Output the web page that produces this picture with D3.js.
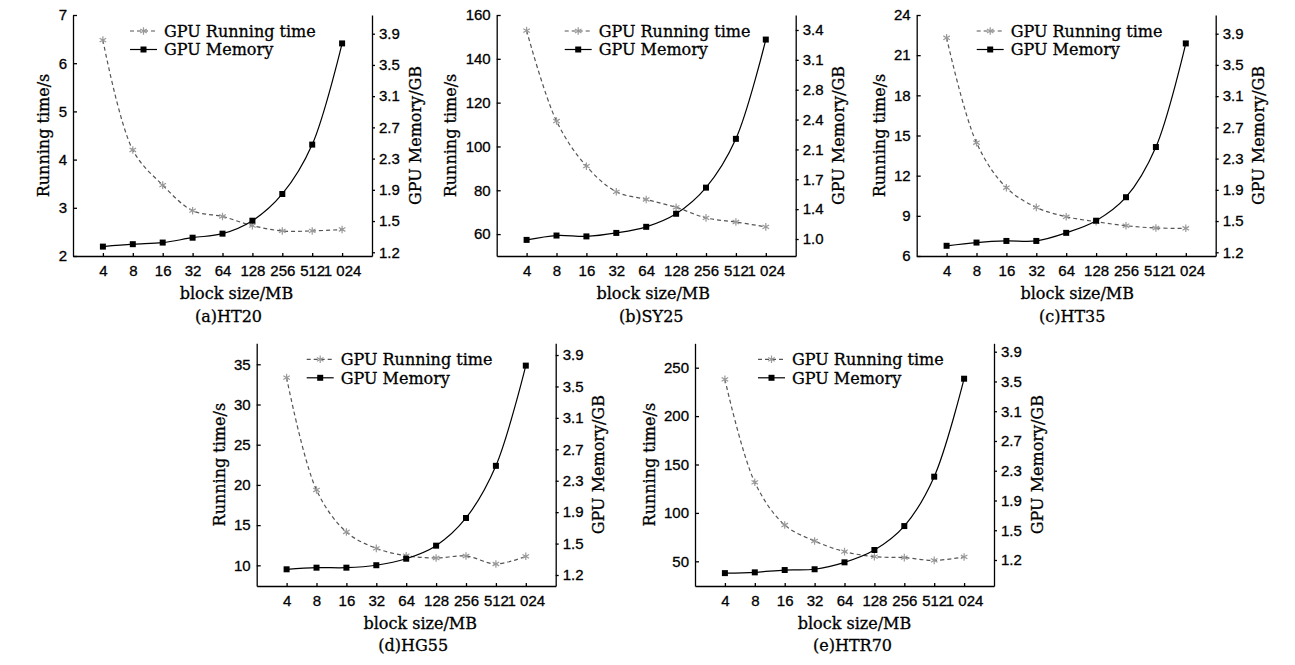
<!DOCTYPE html>
<html>
<head>
<meta charset="utf-8">
<script src="https://cdn.jsdelivr.net/npm/d3@7"></script>
<style>
  body { margin: 0; background: #fff; }
  svg { display: block; font-family: "DejaVu Serif", serif; }
  .axis path, .axis line { stroke: #000; stroke-width: 1.3; }
  .axis text { font-size: 15px; fill: #000; stroke: #000; stroke-width: 0.3; }
  .ttl { font-size: 16px; fill: #000; stroke: #000; stroke-width: 0.3; }
</style>
</head>
<body>
<div class="chart"></div>
<script>
// block sizes shared by all five panels
var blockSizes = [4, 8, 16, 32, 64, 128, 256, 512, 1024];
var blockLabels = ["4", "8", "16", "32", "64", "128", "256", "512", "1 024"];
var captions = ["(a)HT20", "(b)SY25", "(c)HT35", "(d)HG55", "(e)HTR70"];

// running time (s)
var timeHT20 = [6.48, 4.20, 3.47, 2.94, 2.82, 2.63, 2.52, 2.52, 2.55];
var timeSY25 = [152.9, 111.6, 91.0, 79.3, 75.8, 72.2, 67.4, 65.5, 63.3];
var timeHT35 = [22.3, 14.46, 11.1, 9.63, 8.93, 8.56, 8.26, 8.09, 8.07];
var timeHG55 = [33.34, 19.37, 14.15, 12.11, 11.2, 10.91, 11.16, 10.17, 11.12];
var timeHTR70 = [237.9, 131.6, 87.5, 71.0, 60.0, 54.8, 53.8, 51.0, 54.5];

// GPU memory (GB)
var memHT20 = [1.27, 1.30, 1.32, 1.38, 1.43, 1.59, 1.92, 2.53, 3.78];
var memSY25 = [0.99, 1.04, 1.03, 1.07, 1.14, 1.29, 1.59, 2.15, 3.29];
var memHT35 = [1.28, 1.32, 1.34, 1.34, 1.44, 1.59, 1.88, 2.50, 3.78];
var memHG55 = [1.27, 1.29, 1.29, 1.32, 1.40, 1.56, 1.90, 2.54, 3.77];
var memHTR70 = [1.03, 1.04, 1.07, 1.08, 1.17, 1.33, 1.64, 2.28, 3.55];

// axis domains and tick labels
var leftDomains = [[2, 7], [50, 160], [6, 24], [7.43, 37.61], [24.5, 275.2]];
var rightDomains = [[1.154, 4.131], [0.805, 3.572], [1.154, 4.131], [1.065, 4.044], [0.863, 4.009]];
var leftTicks = [
  [2, 3, 4, 5, 6, 7],
  [60, 80, 100, 120, 140, 160],
  [6, 9, 12, 15, 18, 21, 24],
  [10, 15, 20, 25, 30, 35],
  [50, 100, 150, 200, 250]
];
var rightLabels = [
  ["1.2", "1.5", "1.9", "2.3", "2.7", "3.1", "3.5", "3.9"],
  ["1.0", "1.4", "1.7", "2.1", "2.4", "2.8", "3.1", "3.4"],
  ["1.2", "1.5", "1.9", "2.3", "2.7", "3.1", "3.5", "3.9"],
  ["1.2", "1.5", "1.9", "2.3", "2.7", "3.1", "3.5", "3.9"],
  ["1.2", "1.5", "1.9", "2.3", "2.7", "3.1", "3.5", "3.9"]
];
var times = [timeHT20, timeSY25, timeHT35, timeHG55, timeHTR70];
var mems = [memHT20, memSY25, memHT35, memHG55, memHTR70];

// panel placement
var layout = [
  {x: 73, y: 15, h: 241, legX: 57, xtDx: 14, capDx: 6},
  {x: 496.7, y: 15, h: 241, legX: 68, xtDx: 7, capDx: 5},
  {x: 916.7, y: 15, h: 241, legX: 60, xtDx: 11, capDx: 6},
  {x: 256.7, y: 343.3, h: 242.7, legX: 50, xtDx: 14, capDx: 7},
  {x: 695, y: 343.3, h: 242.7, legX: 63, xtDx: 10, capDx: 8}
];
var plotW = 299;

var timeLine = "#555", timeMark = "#9a9a9a";

var svg = d3.select(".chart").append("svg")
    .attr("width", 1295)
    .attr("height", 665);

var star = d3.symbol().type(d3.symbolAsterisk).size(40);
var square = d3.symbol().type(d3.symbolSquare).size(36);

layout.forEach(function(L, p) {
  var g = svg.append("g").attr("transform", "translate(" + L.x + "," + L.y + ")");

  var x = d3.scalePoint().domain(blockSizes).range([0, plotW]).padding(1);
  var yL = d3.scaleLinear().domain(leftDomains[p]).range([L.h, 0]);
  var yR = d3.scaleLinear().domain(rightDomains[p]).range([L.h, 0]);

  var labs = rightLabels[p];
  var lo = +labs[0], hi = +labs[labs.length - 1];
  var rVals = labs.map(function(s, i) { return lo + i * (hi - lo) / (labs.length - 1); });

  g.append("g").attr("class", "axis")
      .attr("transform", "translate(0," + L.h + ")")
      .call(d3.axisBottom(x).tickSizeInner(-3).tickSizeOuter(0).tickPadding(9)
        .tickFormat(function(d, i) { return blockLabels[i]; }));

  var la = g.append("g").attr("class", "axis")
      .call(d3.axisLeft(yL).tickValues(leftTicks[p]).tickSizeInner(-4).tickSizeOuter(0).tickPadding(6)
        .tickFormat(function(d) { return String(d); }));

  g.append("g").attr("class", "axis")
      .attr("transform", "translate(" + plotW + ",0)")
      .call(d3.axisRight(yR).tickValues(rVals).tickSizeInner(3).tickSizeOuter(0).tickPadding(4)
        .tickFormat(function(d, i) { return labs[i]; }));

  // axis titles
  var lw = d3.max(la.selectAll("text").nodes(), function(n) { return n.getBBox().width; });
  g.append("text").attr("class", "ttl")
      .attr("transform", "translate(" + (-lw - 21) + "," + (L.h / 2) + ") rotate(-90)")
      .attr("text-anchor", "middle").attr("dy", "0.35em")
      .text("Running time/s");
  g.append("text").attr("class", "ttl")
      .attr("transform", "translate(" + (plotW + 43) + "," + (L.h / 2) + ") rotate(-90)")
      .attr("text-anchor", "middle").attr("dy", "0.35em")
      .text("GPU Memory/GB");
  g.append("text").attr("class", "ttl")
      .attr("x", plotW / 2 + L.xtDx).attr("y", L.h + 43)
      .attr("text-anchor", "middle")
      .text("block size/MB");
  g.append("text").attr("class", "ttl")
      .attr("x", plotW / 2 + L.capDx).attr("y", L.h + 65.5)
      .attr("text-anchor", "middle")
      .text(captions[p]);

  // running time, dashed grey
  var tData = times[p].map(function(v, i) { return {k: blockSizes[i], v: v}; });
  g.append("path").datum(tData)
      .attr("fill", "none").attr("stroke", timeLine).attr("stroke-width", 1.2)
      .attr("stroke-dasharray", "4,3")
      .attr("d", d3.line().curve(d3.curveCatmullRom)
        .x(function(d) { return x(d.k); }).y(function(d) { return yL(d.v); }));
  g.selectAll(".star").data(tData).enter().append("path")
      .attr("transform", function(d) { return "translate(" + x(d.k) + "," + yL(d.v) + ")"; })
      .attr("d", star).attr("fill", "none").attr("stroke", timeMark).attr("stroke-width", 1.2);

  // memory, solid black
  var mData = mems[p].map(function(v, i) { return {k: blockSizes[i], v: v}; });
  g.append("path").datum(mData)
      .attr("fill", "none").attr("stroke", "#000").attr("stroke-width", 1.2)
      .attr("d", d3.line().curve(d3.curveCatmullRom)
        .x(function(d) { return x(d.k); }).y(function(d) { return yR(d.v); }));
  g.selectAll(".sq").data(mData).enter().append("path")
      .attr("transform", function(d) { return "translate(" + x(d.k) + "," + yR(d.v) + ")"; })
      .attr("d", square).attr("fill", "#000");

  // legend
  var lg = g.append("g").attr("transform", "translate(" + L.legX + ",16)");
  lg.append("line").attr("x1", 0).attr("x2", 27).attr("y1", 0).attr("y2", 0)
      .attr("stroke", timeLine).attr("stroke-width", 1.2).attr("stroke-dasharray", "4,3");
  lg.append("path").attr("transform", "translate(13.5,0)").attr("d", star)
      .attr("fill", "none").attr("stroke", timeMark).attr("stroke-width", 1.2);
  lg.append("text").attr("class", "ttl").attr("x", 34).attr("y", 0).attr("dy", "0.36em")
      .text("GPU Running time");
  lg.append("line").attr("x1", 0).attr("x2", 27).attr("y1", 18.5).attr("y2", 18.5)
      .attr("stroke", "#000").attr("stroke-width", 1.2);
  lg.append("path").attr("transform", "translate(13.5,18.5)").attr("d", square).attr("fill", "#000");
  lg.append("text").attr("class", "ttl").attr("x", 34).attr("y", 18.5).attr("dy", "0.36em")
      .text("GPU Memory");
});
</script>
</body>
</html>
